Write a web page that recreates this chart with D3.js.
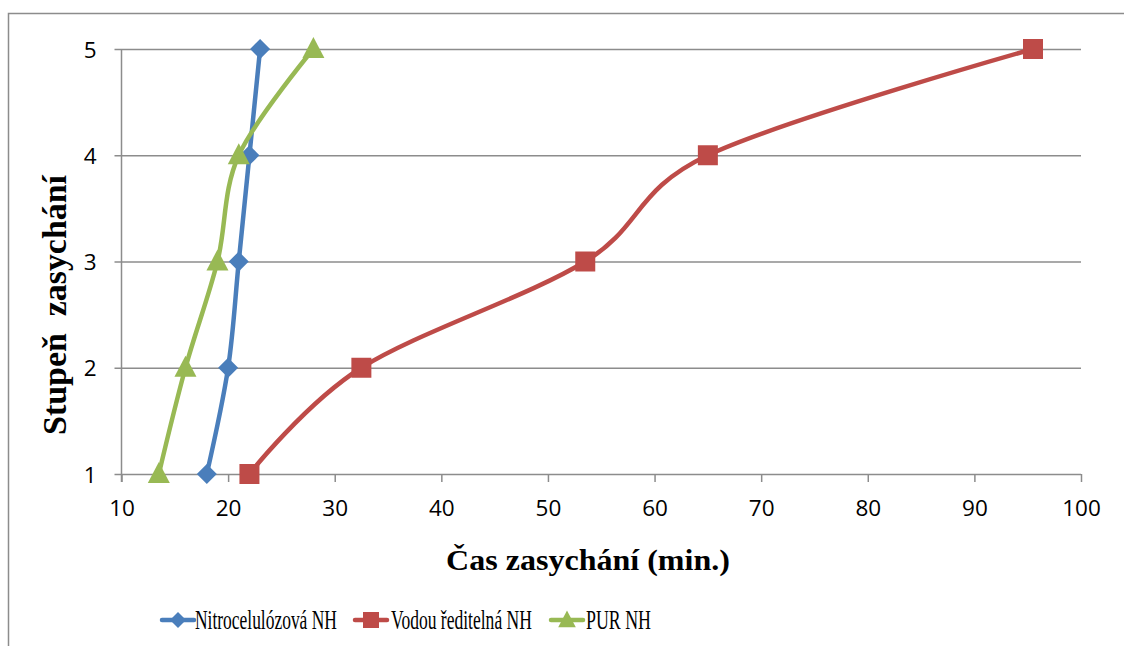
<!DOCTYPE html>
<html>
<head>
<meta charset="utf-8">
<script src="https://cdn.jsdelivr.net/npm/d3@7"></script>
<style>
  html, body { margin: 0; padding: 0; background: #fff; }
  svg { display: block; }
</style>
</head>
<body>
<svg id="chart" width="1124" height="646"></svg>
<script>
// Drying stage (1–5) reached after a given drying time, per coating type
const stages = [1, 2, 3, 4, 5];
const nitroTimes = [18, 20, 21, 22, 23];
const waterTimes = [22, 32.5, 53.5, 65, 95.5];
const purTimes = [13.5, 16, 19, 21, 28];

const seriesNames = ["Nitrocelulózová NH", "Vodou ředitelná NH", "PUR NH"];
const xTicks = [10, 20, 30, 40, 50, 60, 70, 80, 90, 100];
const yTicks = [1, 2, 3, 4, 5];

const series = [
  { name: seriesNames[0], times: nitroTimes, color: "#4A7EBB", marker: "diamond" },
  { name: seriesNames[1], times: waterTimes, color: "#BE4B48", marker: "square" },
  { name: seriesNames[2], times: purTimes, color: "#98B954", marker: "triangle" }
];

const svg = d3.select("#chart");

// outer frame (top and left edges visible)
svg.append("path")
  .attr("d", "M8.5,646 L8.5,13.5 L1124,13.5")
  .attr("fill", "none").attr("stroke", "#8c8c8c").attr("stroke-width", 1.5);

const x = d3.scaleLinear().domain([10, 100]).range([121.5, 1081]);
const y = d3.scaleLinear().domain([1, 5]).range([474, 49]);

const tickFont = "'Open Sans', 'Liberation Sans', sans-serif";
const serif = "'Liberation Serif', 'Times New Roman', serif";

// squeeze/stretch a text horizontally so it spans the given width
function fitText(sel, width, rotate) {
  const natural = sel.node().getComputedTextLength();
  const k = width / natural;
  const base = sel.attr("data-base") || "";
  sel.attr("transform", `${base}${rotate ? " rotate(-90)" : ""} scale(${k},1)`);
}

// horizontal gridlines with y axis ticks
const yAxis = d3.axisLeft(y).tickValues(yTicks).tickSize(-(1081 - 121.5)).tickPadding(25)
  .tickFormat(d3.format("d"));
const gy = svg.append("g").attr("transform", "translate(121.5,0)").call(yAxis);
gy.select(".domain").remove();
gy.selectAll(".tick line")
  .attr("x1", -7)
  .attr("stroke", "#8c8c8c").attr("stroke-width", 1.5);
gy.selectAll(".tick text")
  .attr("font-family", tickFont).attr("font-size", 22.5).attr("fill", "#000")
  .attr("dy", "0.36em");

// vertical axis line
svg.append("line")
  .attr("x1", 121.5).attr("x2", 121.5).attr("y1", 49).attr("y2", 482)
  .attr("stroke", "#8c8c8c").attr("stroke-width", 1.5);

// x axis
const xAxis = d3.axisBottom(x).tickValues(xTicks).tickSize(8).tickPadding(18)
  .tickFormat(d3.format("d"));
const gx = svg.append("g").attr("transform", "translate(0,474)").call(xAxis);
gx.select(".domain").remove();
gx.selectAll(".tick line").attr("stroke", "#8c8c8c").attr("stroke-width", 1.5);
gx.selectAll(".tick text")
  .attr("font-family", tickFont).attr("font-size", 22.5).attr("fill", "#000");

// axis titles
const xTitle = svg.append("text")
  .attr("data-base", "translate(588,570)")
  .attr("text-anchor", "middle")
  .attr("font-family", serif).attr("font-weight", "bold").attr("font-size", 30)
  .attr("fill", "#000")
  .text("Čas zasychání (min.)");
fitText(xTitle, 284, false);

const yTitle = svg.append("text")
  .attr("data-base", "translate(66,305)")
  .attr("text-anchor", "middle")
  .attr("font-family", serif).attr("font-weight", "bold").attr("font-size", 33)
  .attr("fill", "#000")
  .attr("xml:space", "preserve")
  .style("white-space", "pre")
  .text("Stupeň  zasychání");
fitText(yTitle, 260, true);

// marker shapes
function markerPath(kind, s) {
  if (kind === "diamond") return `M0,${-10 * s} L${10 * s},0 L0,${10 * s} L${-10 * s},0 Z`;
  if (kind === "square") return `M${-10 * s},${-10 * s} H${10 * s} V${10 * s} H${-10 * s} Z`;
  return `M0,${-12 * s} L${11 * s},${9 * s} L${-11 * s},${9 * s} Z`;
}

const line = d3.line()
  .x(d => x(d[0]))
  .y(d => y(d[1]))
  .curve(d3.curveCatmullRom.alpha(0));

series.forEach(s => {
  const pts = s.times.map((t, i) => [t, stages[i]]);
  const g = svg.append("g");
  g.append("path")
    .attr("d", line(pts))
    .attr("fill", "none")
    .attr("stroke", s.color)
    .attr("stroke-width", 4.5)
    .attr("stroke-linejoin", "round")
    .attr("stroke-linecap", "round");
  g.selectAll("path.m")
    .data(pts)
    .join("path")
    .attr("class", "m")
    .attr("transform", d => `translate(${x(d[0])},${y(d[1])})`)
    .attr("d", markerPath(s.marker, 1))
    .attr("fill", s.color);
});

// legend
const legendItems = [
  { lx: 160, tx: 195, w: 142 },
  { lx: 353, tx: 391, w: 141 },
  { lx: 549, tx: 586, w: 65 }
];
series.forEach((s, i) => {
  const L = legendItems[i];
  const g = svg.append("g");
  g.append("line")
    .attr("x1", L.lx + 2).attr("x2", L.lx + 34)
    .attr("y1", 620).attr("y2", 620)
    .attr("stroke", s.color).attr("stroke-width", 4.5)
    .attr("stroke-linecap", "round");
  g.append("path")
    .attr("transform", `translate(${L.lx + 18},620)`)
    .attr("d", markerPath(s.marker, 0.8))
    .attr("fill", s.color);
  const t = g.append("text")
    .attr("data-base", `translate(${L.tx},629)`)
    .attr("font-family", serif).attr("font-size", 27)
    .attr("fill", "#000")
    .text(s.name);
  fitText(t, L.w, false);
});
</script>
</body>
</html>
